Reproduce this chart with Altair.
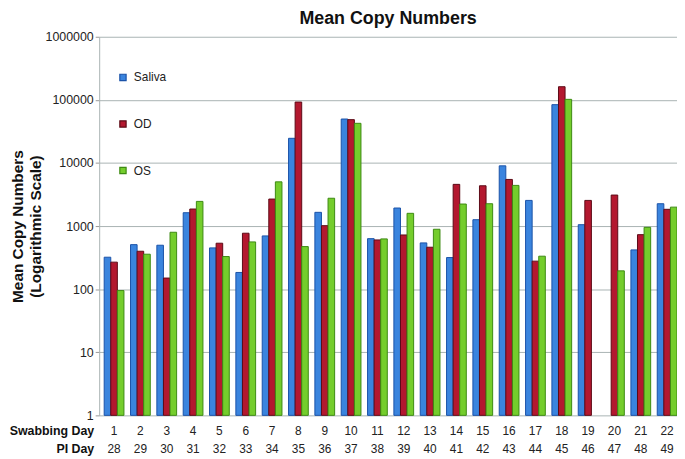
import altair as alt
import pandas as pd

swab_days = list(range(1, 23))
pi_days = [28, 29, 30, 31, 32, 33, 34, 35, 36, 37, 38, 39, 40, 41, 42, 43, 44, 45, 46, 47, 48, 49]
series = ["Saliva", "OD", "OS"]
saliva = [321, 508, 497, 1628, 451, 184, 698, 24600, 1650, 49700, 632, 1932, 541, 317,
          1262, 9000, 2550, 84000, 1052, None, 419, 2260]
od = [268, 399, 150, 1862, 535, 770, 2680, 92300, 1015, 48600, 603, 723, 462, 4580,
      4350, 5480, 278, 161600, 2550, 3100, 731, 1842]
os_ = [95, 358, 798, 2460, 329, 561, 5020, 473, 2760, 42500, 626, 1592, 890, 2234,
       2260, 4410, 333, 101900, None, 195, 955, 1995]
y_ticks = [1, 10, 100, 1000, 10000, 100000, 1000000]

fills = ["#3a84de", "#b3182f", "#74cd2c"]
strokes = ["#1a52a8", "#5c0a16", "#3d8a12"]

rows = []
for name, vals in zip(series, [saliva, od, os_]):
    for d, v in zip(swab_days, vals):
        if v is not None:
            rows.append({"day": d, "series": name, "value": v})
df = pd.DataFrame(rows)
days_df = pd.DataFrame({"day": swab_days, "pi": pi_days})

W, H = 583, 382
FONT = "Liberation Sans"

xscale = alt.Scale(domain=swab_days, paddingInner=0.25, paddingOuter=0.095, align=1)
leg = dict(orient="none", legendX=18, legendY=35, title=None, symbolType="square",
           symbolSize=40, symbolStrokeWidth=1.2, labelFontSize=12, labelFont=FONT,
           labelColor="#222", rowPadding=35, labelOffset=5)

bars = alt.Chart(df).mark_bar(strokeWidth=1).encode(
    x=alt.X("day:O", scale=xscale, axis=None),
    xOffset=alt.XOffset("series:N", sort=series,
                        scale=alt.Scale(domain=series, paddingInner=0, paddingOuter=0)),
    y=alt.Y("value:Q",
            scale=alt.Scale(type="log", domain=[1, 1000000]),
            axis=alt.Axis(values=y_ticks, format="d", grid=True, gridColor="#a9b3b3",
                          gridWidth=1, tickColor="#999", tickSize=4, domainColor="#a9b3b3",
                          labelFont=FONT, labelFontSize=12.5, labelColor="#222", labelPadding=2,
                          title=["Mean Copy Numbers", "(Logarithmic Scale)"],
                          titleFont=FONT, titleFontSize=15.5, titleFontWeight="bold",
                          titleColor="#111", titlePadding=2, titleLineHeight=18)),
    y2=alt.datum(1),
    fill=alt.Fill("series:N", scale=alt.Scale(domain=series, range=fills), legend=alt.Legend(**leg)),
    stroke=alt.Stroke("series:N", scale=alt.Scale(domain=series, range=strokes), legend=alt.Legend(**leg)),
)

ROW1, ROW2 = H + 16, H + 34

swab_txt = alt.Chart(days_df).mark_text(font=FONT, fontSize=12, color="#222", baseline="middle").encode(
    x=alt.X("day:O", scale=xscale, axis=None),
    y=alt.value(ROW1),
    text=alt.Text("day:Q"),
)
pi_txt = alt.Chart(days_df).mark_text(font=FONT, fontSize=12, color="#222", baseline="middle").encode(
    x=alt.X("day:O", scale=xscale, axis=None),
    y=alt.value(ROW2),
    text=alt.Text("pi:Q"),
)
hdr_df = pd.DataFrame({"t": ["Swabbing Day", "PI Day"], "row": [0, 1]})
hdr1 = alt.Chart(hdr_df[hdr_df.row == 0]).mark_text(font=FONT, fontSize=12.5, fontWeight="bold",
                                                     color="#111", align="right", baseline="middle").encode(
    x=alt.value(-5), y=alt.value(ROW1), text="t:N")
hdr2 = alt.Chart(hdr_df[hdr_df.row == 1]).mark_text(font=FONT, fontSize=12.5, fontWeight="bold",
                                                     color="#111", align="right", baseline="middle").encode(
    x=alt.value(-5), y=alt.value(ROW2), text="t:N")

chart = alt.layer(bars, swab_txt, pi_txt, hdr1, hdr2).properties(
    width=W, height=H,
    title=alt.TitleParams("Mean Copy Numbers", font=FONT, fontSize=18, fontWeight="bold",
                          color="#111", anchor="middle", offset=3),
    autosize=alt.AutoSizeParams(type="none"),
    padding={"left": 92, "top": 27, "right": 0, "bottom": 42},
).configure_view(stroke=None)

chart.save("out.html", embed_options={"renderer": "svg", "actions": False})
